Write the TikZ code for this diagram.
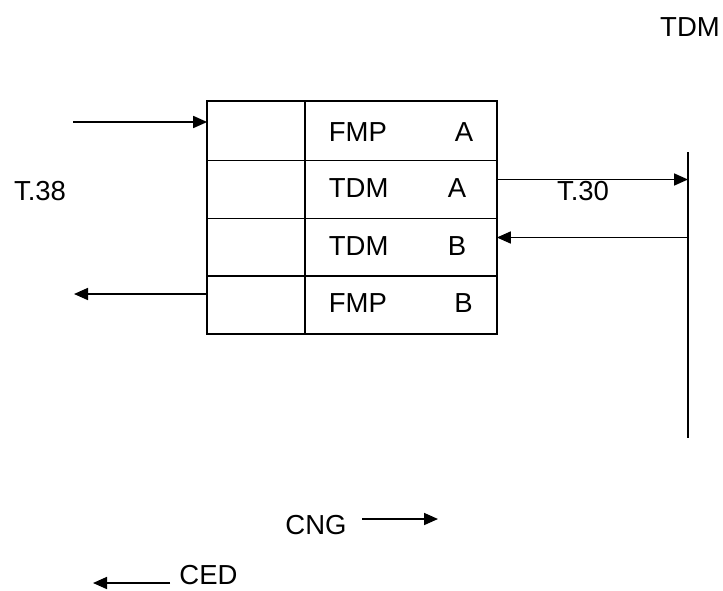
\documentclass[tikz,border=0pt]{standalone}
\usepackage{fontspec}
\setmainfont{Liberation Sans}
\usetikzlibrary{arrows.meta,calc}
\begin{document}
\begin{tikzpicture}[x=1pt,y=-1pt,
  line width=1.7pt,
  cell/.style={inner sep=0pt,minimum height=57.75pt},
  lcell/.style={cell,minimum width=96pt},
  rcell/.style={cell,minimum width=192pt},
  lbl/.style={font=\fontsize{27.5}{32}\selectfont,inner sep=0pt},
  arr/.style={-{Triangle[length=14pt,width=12pt]}}
]
\useasboundingbox (0,0) rectangle (723,590);
% table cells
\node[lcell] (L1) at (256,130.875) {};
\node[lcell] (L2) at (256,188.625) {};
\node[lcell] (L3) at (256,246.375) {};
\node[lcell] (L4) at (256,304.125) {};
\node[rcell] (R1) at (400,130.875) {};
\node[rcell] (R2) at (400,188.625) {};
\node[rcell] (R3) at (400,246.375) {};
\node[rcell] (R4) at (400,304.125) {};
% grid
\draw (L1.north west) rectangle (R4.south east);
\draw (L1.north east) -- (L4.south east);
\draw (L1.south west) -- (R1.south east);
\draw (L2.south west) -- (R2.south east);
\draw (L3.south west) -- (R3.south east);
% cell texts
\node[lbl,anchor=west] (t1) at (328,132) {FMP};
\node[lbl] (a1) at (464,132) {A};
\node[lbl,anchor=west] (t2) at (328,188.5) {TDM};
\node[lbl] (a2) at (457,188.5) {A};
\node[lbl,anchor=west] (t3) at (328,246.5) {TDM};
\node[lbl] (a3) at (457,246.5) {B};
\node[lbl,anchor=west] (t4) at (328,303.5) {FMP};
\node[lbl] (a4) at (463.5,303.5) {B};
% other labels
\node[lbl] (tdm) at (690,27) {TDM};
\node[lbl] (t38) at (40,191) {T.38};
\node[lbl] (t30) at (583,191) {T.30};
\node[lbl] (cng) at (316,525.5) {CNG};
\node[lbl] (ced) at (208.5,575.5) {CED};
% bus line
\coordinate (busT) at (688,152);
\coordinate (busB) at (688,438);
\draw (busT) -- (busB);
% left arrows
\coordinate (in1) at (73,122);
\draw[arr] (in1) -- (in1 -| L1.west);
\coordinate (out1) at (74,294);
\draw[arr] (out1 -| L4.west) -- (out1);
% right arrows
\coordinate (r1) at (0,179.5);
\draw[arr] (r1 -| R2.east) -- (r1 -| busT);
\coordinate (r2) at (0,237.5);
\draw[arr] (r2 -| busT) -- (r2 -| R3.east);
% CNG / CED arrows
\coordinate (cngS) at (362,519);
\coordinate (cngE) at (438,519);
\draw[arr] (cngS) -- (cngE);
\coordinate (cedS) at (170,583);
\coordinate (cedE) at (93,583);
\draw[arr] (cedS) -- (cedE);
\end{tikzpicture}
\end{document}
